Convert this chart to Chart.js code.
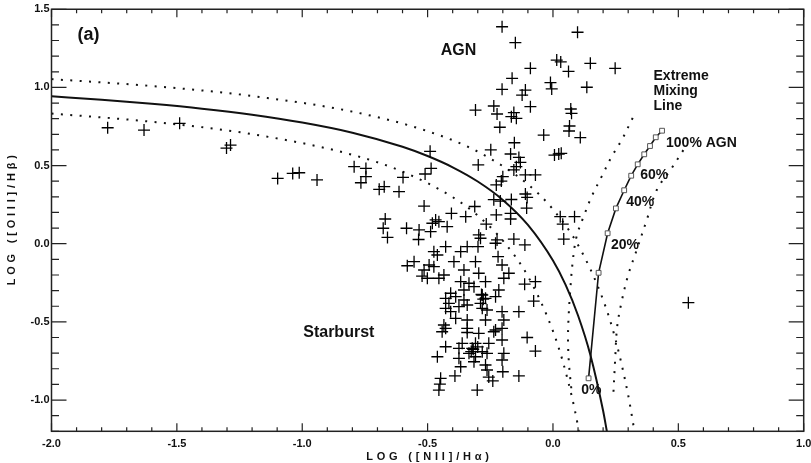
<!DOCTYPE html>
<html>
<head>
<meta charset="utf-8">
<script src="https://cdn.jsdelivr.net/npm/chart.js@4.4.1/dist/chart.umd.min.js"></script>
<style>
  html, body { margin: 0; padding: 0; background: #fff; }
  #wrap { width: 811px; height: 463px; position: relative; }
</style>
</head>
<body>
<div id="wrap"><canvas id="c" width="811" height="463"></canvas></div>
<script>
// Galaxy line ratios: log([NII]/Hα) and log([OIII]/Hβ)
const galaxyNII = [
  -1.776, -1.631, -1.489, -1.302, -1.286, -1.098, -1.038, -1.012, -0.941, -0.793,
  -0.746, -0.746, -0.766, -0.693, -0.673, -0.614, -0.598, -0.510, -0.490, -0.486,
  -0.203, -0.150, 0.098, -0.090, -0.163, -0.203, -0.123, -0.110, -0.090, -0.156,
  -0.166, -0.146, -0.309, -0.236, -0.223, -0.212, 0.015, 0.031, 0.062, -0.010,
  -0.005, 0.149, 0.248, 0.135, 0.071, 0.074, 0.064, 0.066, -0.037, 0.109,
  -0.154, -0.248, -0.169, -0.136, -0.130, -0.298, -0.146, -0.156, -0.110, -0.070,
  -0.200, -0.206, -0.226, -0.110, -0.103, 0.023, 0.033, 0.006, -0.105, -0.236,
  -0.166, -0.210, -0.169, -0.226, -0.266, -0.156, -0.112, -0.229, -0.219, -0.203,
  -0.299, 0.029, 0.086, 0.039, 0.043, 0.540, -0.070, -0.113, -0.077, -0.136,
  -0.103, -0.070, -0.136, -0.312, -0.514, -0.405, -0.348, -0.169, -0.669, -0.468,
  -0.481, -0.455, -0.584, -0.534, -0.488, -0.422, -0.677, -0.660, -0.536, -0.296,
  -0.289, -0.223, -0.428, -0.475, -0.461, -0.368, -0.342, -0.309, -0.395, -0.581,
  -0.554, -0.494, -0.475, -0.514, -0.355, -0.176, -0.522, -0.501, -0.435, -0.455,
  -0.296, -0.196, -0.368, -0.335, -0.269, -0.216, -0.355, -0.315, -0.408, -0.388,
  -0.282, -0.269, -0.229, -0.428, -0.415, -0.355, -0.342, -0.289, -0.263, -0.282,
  -0.203, -0.428, -0.408, -0.375, -0.269, -0.388, -0.342, -0.196, -0.435, -0.428,
  -0.342, -0.229, -0.203, -0.442, -0.342, -0.296, -0.236, -0.203, -0.362, -0.309,
  -0.256, -0.428, -0.375, -0.322, -0.282, -0.335, -0.263, -0.196, -0.461, -0.375,
  -0.309, -0.315, -0.203, -0.368, -0.269, -0.263, -0.200, -0.391, -0.256, -0.240,
  -0.448, -0.451, -0.455, -0.302, -0.285, -0.278, -0.318, -0.326, -0.300
];
const galaxyOIII = [
  0.742, 0.727, 0.770, 0.612, 0.631, 0.418, 0.450, 0.454, 0.408, 0.493,
  0.482, 0.429, 0.390, 0.348, 0.365, 0.333, 0.424, 0.446, 0.591, 0.482,
  1.388, 1.286, 1.353, 1.122, 1.058, 0.988, 0.951, 0.983, 0.877, 0.839,
  0.813, 0.802, 0.855, 0.881, 0.830, 0.745, 1.175, 1.163, 1.102, 1.031,
  0.990, 1.154, 1.122, 1.001, 0.862, 0.834, 0.721, 0.753, 0.695, 0.679,
  0.646, 0.601, 0.574, 0.552, 0.520, 0.504, 0.493, 0.472, 0.440, 0.440,
  0.429, 0.401, 0.376, 0.318, 0.296, 0.574, 0.578, 0.567, 0.228, 0.282,
  0.283, 0.273, 0.158, 0.184, 0.126, 0.030, -0.008, 0.003, -0.083, -0.136,
  -0.019, 0.173, 0.173, 0.125, 0.030, -0.377, -0.243, -0.259, -0.367, -0.435,
  -0.600, -0.687, -0.846, 0.238, 0.241, 0.194, 0.173, 0.194, 0.158, 0.152,
  0.131, 0.141, 0.099, 0.088, 0.077, 0.109, 0.099, 0.040, 0.027, 0.056,
  0.035, 0.024, -0.019, -0.051, -0.072, -0.051, -0.019, -0.115, -0.115, -0.141,
  -0.115, -0.136, -0.147, -0.168, -0.168, -0.189, -0.207, -0.221, -0.200, -0.221,
  -0.189, -0.221, -0.243, -0.253, -0.243, -0.296, -0.296, -0.275, -0.317, -0.339,
  -0.328, -0.349, -0.339, -0.349, -0.381, -0.360, -0.392, -0.381, -0.424, -0.413,
  -0.435, -0.413, -0.435, -0.403, -0.488, -0.477, -0.488, -0.488, -0.520, -0.541,
  -0.541, -0.552, -0.541, -0.563, -0.568, -0.573, -0.563, -0.616, -0.637, -0.637,
  -0.637, -0.659, -0.669, -0.669, -0.691, -0.701, -0.701, -0.701, -0.723, -0.733,
  -0.723, -0.755, -0.744, -0.787, -0.776, -0.808, -0.819, -0.846, -0.853, -0.878,
  -0.861, -0.898, -0.936, -0.936, -0.325, -0.355, -0.675, -0.690, -0.660
];

// Maximum starburst line and its upper / lower uncertainty bounds
const starburstX = [-2.0, -1.8, -1.6, -1.4, -1.2, -1.0, -0.8, -0.6, -0.5, -0.4, -0.3, -0.2, -0.1, 0.0, 0.05, 0.1, 0.15, 0.2, 0.215];
const starburstY = [0.943, 0.921, 0.895, 0.864, 0.825, 0.775, 0.710, 0.620, 0.561, 0.489, 0.398, 0.280, 0.120, -0.108, -0.262, -0.459, -0.716, -1.069, -1.200];
const upperBoundX = [-2.0, -1.6, -1.2, -0.8, -0.5, -0.3, -0.1, 0.0, 0.1, 0.2, 0.25, 0.3, 0.325];
const upperBoundY = [1.053, 1.009, 0.945, 0.845, 0.720, 0.589, 0.380, 0.220, -0.008, -0.359, -0.616, -0.969, -1.200];
const lowerBoundX = [-2.0, -1.6, -1.2, -0.8, -0.6, -0.4, -0.3, -0.2, -0.1, 0.0, 0.05, 0.1, 0.103];
const lowerBoundY = [0.833, 0.780, 0.701, 0.569, 0.461, 0.298, 0.180, 0.020, -0.208, -0.559, -0.816, -1.169, -1.200];

// Extreme mixing line: 0% to 100% AGN contribution in 10% steps
const mixingPercent = [0, 10, 20, 30, 40, 50, 60, 70, 80, 90, 100];
const mixingX = [0.142, 0.182, 0.218, 0.251, 0.284, 0.312, 0.338, 0.364, 0.387, 0.410, 0.435];
const mixingY = [-0.861, -0.186, 0.067, 0.226, 0.342, 0.435, 0.508, 0.572, 0.625, 0.681, 0.723];
const mixLeftX = [0.318, 0.274, 0.234, 0.194, 0.154, 0.122, 0.094, 0.078, 0.068, 0.062, 0.060, 0.064, 0.075];
const mixLeftY = [0.805, 0.663, 0.557, 0.429, 0.301, 0.173, 0.045, -0.125, -0.320, -0.480, -0.620, -0.770, -0.957];
const mixRightX = [0.520, 0.470, 0.414, 0.374, 0.334, 0.300, 0.274, 0.256, 0.248, 0.241];
const mixRightY = [0.599, 0.475, 0.344, 0.152, -0.040, -0.200, -0.370, -0.531, -0.744, -0.957];

// Axis tick labels
const xTickLabels = ['-2.0', '-1.5', '-1.0', '-0.5', '0.0', '0.5', '1.0'];
const yTickLabels = ['-1.0', '-0.5', '0.0', '0.5', '1.0', '1.5'];
const xTitle = 'LOG ([NII]/H\u03B1)';
const yTitle = 'LOG ([OIII]/H\u03B2)';

// Text placed in data coordinates
const notes = [
  { text: '(a)', x: -1.896, y: 1.332, size: 18 },
  { text: 'AGN', x: -0.448, y: 1.233, size: 16 },
  { text: 'Starburst', x: -0.996, y: -0.569, size: 16 },
  { text: 'Extreme', x: 0.401, y: 1.075, size: 14 },
  { text: 'Mixing', x: 0.401, y: 0.979, size: 14 },
  { text: 'Line', x: 0.401, y: 0.877, size: 14 },
  { text: '100% AGN', x: 0.451, y: 0.646, size: 14 },
  { text: '60%', x: 0.348, y: 0.440, size: 14 },
  { text: '40%', x: 0.292, y: 0.269, size: 14 },
  { text: '20%', x: 0.231, y: -0.008, size: 14 },
  { text: '0%', x: 0.113, y: -0.936, size: 14 }
];

const pts = (xs, ys) => xs.map((v, i) => ({ x: v, y: ys[i] }));
const FONT = '"Liberation Sans", Arial, Helvetica, sans-serif';
const INK = '#111';

const dotted = {
  showLine: true, pointRadius: 0, borderColor: INK, borderWidth: 2,
  borderDash: [2, 7.4], borderCapStyle: 'butt', fill: false, tension: 0.35
};

// Inward tick marks on all four sides, frame, axis titles and text notes
const framePlugin = {
  id: 'framePlugin',
  afterDatasetsDraw(chart) {
    const { ctx, chartArea: a, scales: { x, y } } = chart;
    ctx.save();
    ctx.strokeStyle = '#222';
    ctx.lineWidth = 1.5;
    ctx.strokeRect(a.left, a.top, a.right - a.left, a.bottom - a.top);
    ctx.lineWidth = 1.2;
    ctx.beginPath();
    for (let i = 0; i <= 30; i++) {
      const px = x.getPixelForValue(-2 + i * 0.1);
      const len = i % 5 === 0 ? 8 : 4;
      ctx.moveTo(px, a.bottom); ctx.lineTo(px, a.bottom - len);
      ctx.moveTo(px, a.top); ctx.lineTo(px, a.top + len);
    }
    for (let i = 0; i <= 27; i++) {
      const v = -1.2 + i * 0.1;
      const py = y.getPixelForValue(v);
      const major = Math.abs(v * 2 - Math.round(v * 2)) < 1e-6;
      const len = major ? 15 : 7.5;
      ctx.moveTo(a.left, py); ctx.lineTo(a.left + len, py);
      ctx.moveTo(a.right, py); ctx.lineTo(a.right - len, py);
    }
    ctx.stroke();

    ctx.fillStyle = INK;
    ctx.textBaseline = 'middle';
    ctx.textAlign = 'left';
    notes.forEach(n => {
      ctx.font = 'bold ' + n.size + 'px ' + FONT;
      ctx.fillText(n.text, x.getPixelForValue(n.x), y.getPixelForValue(n.y));
    });

    ctx.font = 'bold 11px ' + FONT;
    ctx.letterSpacing = '3.8px';
    ctx.textAlign = 'center';
    ctx.fillText(xTitle, (a.left + a.right) / 2 + 1.9, 457);
    ctx.translate(12, (a.top + a.bottom) / 2);
    ctx.rotate(-Math.PI / 2);
    ctx.fillText(yTitle, 1.9, 0);
    ctx.restore();
  }
};

new Chart(document.getElementById('c'), {
  type: 'scatter',
  data: {
    datasets: [
      {
        label: 'Galaxies', data: pts(galaxyNII, galaxyOIII),
        pointStyle: 'cross', pointRadius: 6, pointHoverRadius: 6,
        borderColor: '#000', borderWidth: 1.3, backgroundColor: '#000'
      },
      {
        label: 'Mixing line', data: pts(mixingX, mixingY), showLine: true,
        borderColor: INK, borderWidth: 1.6, tension: 0,
        pointStyle: 'rect', pointRadius: 3.4, pointBackgroundColor: '#fff',
        pointBorderColor: '#555', pointBorderWidth: 1
      },
      Object.assign({ label: 'Mixing lower', data: pts(mixLeftX, mixLeftY) }, dotted),
      Object.assign({ label: 'Mixing upper', data: pts(mixRightX, mixRightY) }, dotted),
      {
        label: 'Maximum starburst', data: pts(starburstX, starburstY), showLine: true,
        pointRadius: 0, borderColor: INK, borderWidth: 2, tension: 0.35, cubicInterpolationMode: 'monotone'
      },
      Object.assign({ label: 'Upper bound', data: pts(upperBoundX, upperBoundY) }, dotted, { cubicInterpolationMode: 'monotone' }),
      Object.assign({ label: 'Lower bound', data: pts(lowerBoundX, lowerBoundY) }, dotted, { cubicInterpolationMode: 'monotone' })
    ]
  },
  options: {
    responsive: false,
    devicePixelRatio: 1,
    animation: false,
    events: [],
    layout: { padding: { top: 9.25, right: 5.3, left: 0, bottom: 0 } },
    plugins: { legend: { display: false }, tooltip: { enabled: false } },
    scales: {
      x: {
        type: 'linear', min: -2, max: 1,
        grid: { display: false, drawTicks: false }, border: { display: false },
        afterBuildTicks: s => { s.ticks = xTickLabels.map(t => ({ value: parseFloat(t) })); },
        afterFit: s => { s.height = 31.7; s.paddingLeft = 0; s.paddingRight = 0; },
        ticks: {
          autoSkip: false, maxRotation: 0, padding: 6, color: INK,
          font: { family: FONT, size: 11, weight: 'bold' },
          callback: (v) => xTickLabels.find(t => Math.abs(parseFloat(t) - v) < 1e-6) || ''
        }
      },
      y: {
        type: 'linear', min: -1.2, max: 1.5,
        grid: { display: false, drawTicks: false }, border: { display: false },
        afterBuildTicks: s => { s.ticks = yTickLabels.map(t => ({ value: parseFloat(t) })); },
        afterFit: s => { s.width = 51.5; s.paddingTop = 0; s.paddingBottom = 0; },
        ticks: {
          autoSkip: false, padding: 2, color: INK,
          font: { family: FONT, size: 11, weight: 'bold' },
          callback: (v) => yTickLabels.find(t => Math.abs(parseFloat(t) - v) < 1e-6) || ''
        }
      }
    }
  },
  plugins: [framePlugin]
});
</script>
</body>
</html>
